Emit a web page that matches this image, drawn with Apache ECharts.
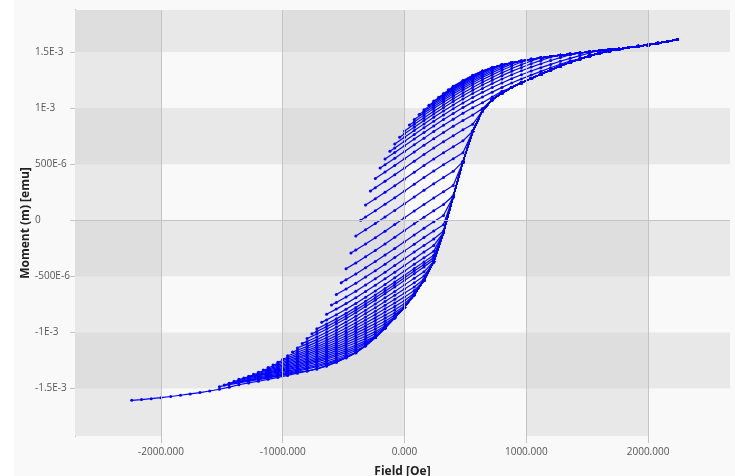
<!DOCTYPE html>
<html><head><meta charset="utf-8">
<script src="https://cdn.jsdelivr.net/npm/echarts@6.0.0/dist/echarts.min.js"></script>
<style>html,body{margin:0;padding:0;background:#f9f9f9}#c{width:735px;height:476px}</style>
</head><body><div id="c"></div>
<script>
// ---- axes ----
const xTicks = [-2000, -1000, 0, 1000, 2000];
const yTicks = [-1.5e-3, -1e-3, -5e-4, 0, 5e-4, 1e-3, 1.5e-3];
const yTickLabels = ['-1.5E-3', '-1E-3', '-500E-6', '0', '500E-6', '1E-3', '1.5E-3'];
const xRange = [-2706, 2673];
const yRange = [-1.923e-3, 1.874e-3];
const shadedColumns = [[-2706, -2000], [-1000, 0], [1000, 2000]];
const shadedRows = [[1.5e-3, 1.874e-3], [5e-4, 1e-3], [-5e-4, 0], [-1.5e-3, -1e-3]];

// ---- data (field in Oe, moment in 1e-6 emu) ----
const FIELD_STEP = 80;
// major ascending branch (first FORC), fields -2240 ... 2240
const ascFields = [-2240,-2160,-2080,-2000,-1920,-1840,-1760,-1680,-1600,-1520,-1440,-1360,-1280,-1200,-1120,-1040,-960,-880,-800,-720,-640,-560,-480,-400,-320,-240,-160,-80,0,80,160,240,320,400,480,560,640,720,800,880,960,1040,1120,1200,1280,1360,1440,1520,1600,1680,1760,1840,1920,2000,2080,2160,2240];
const ascMoments = [-1605,-1598,-1590,-1581,-1571,-1560,-1548,-1536,-1522,-1506,-1488,-1466,-1450,-1435,-1418,-1401,-1383,-1363,-1344,-1325,-1298,-1265,-1225,-1180,-1118,-1045,-960,-868,-775,-665,-535,-370,-110,210,520,790,975,1075,1135,1183,1225,1264,1302,1339,1375,1408,1438,1465,1490,1509,1525,1539,1551,1563,1578,1594,1610];

// reversal fields of the FORCs
const reversalFields = [-1520,-1480,-1440,-1400,-1360,-1320,-1280,-1240,-1200,-1160,-1120,-1080,-1040,-1000,-960,-920,-880,-840,-800,-760,-720,-680,-640,-600,-560,-520,-480,-440,-400,-360,-320,-280,-240,-200,-160,-120,-80,-40,0,40,80,120,160,200,240,280,320,360,400];
// moments of each FORC: first at its reversal field, then on the field grid until it joins the ascending branch
const forcMoments = [
  [-1483,-1465,-1449,-1434,-1421,-1405,-1389,-1372,-1353],
  [-1468,-1457,-1443,-1428,-1414,-1398,-1382,-1365,-1346,-1326,-1306,-1282,-1254],
  [-1452,-1435,-1421,-1406,-1390,-1374,-1356,-1336,-1316,-1295,-1271,-1243,-1210],
  [-1435,-1427,-1412,-1397,-1380,-1363,-1345,-1325,-1303,-1281,-1255,-1228,-1197,-1161],
  [-1418,-1403,-1387,-1370,-1352,-1332,-1311,-1288,-1264,-1238,-1210,-1180,-1146,-1102,-1043],
  [-1405,-1397,-1380,-1362,-1343,-1323,-1301,-1277,-1251,-1224,-1195,-1164,-1130,-1091,-1037],
  [-1390,-1373,-1354,-1334,-1312,-1289,-1265,-1238,-1209,-1179,-1147,-1113,-1075,-1032,-959],
  [-1373,-1364,-1344,-1324,-1301,-1277,-1251,-1223,-1193,-1162,-1128,-1092,-1055,-1012,-952],
  [-1355,-1334,-1313,-1289,-1264,-1237,-1208,-1177,-1144,-1109,-1072,-1033,-993,-941,-867],
  [-1335,-1324,-1302,-1277,-1251,-1223,-1192,-1160,-1126,-1090,-1051,-1010,-969,-923,-859],
  [-1313,-1290,-1264,-1237,-1208,-1177,-1143,-1108,-1070,-1030,-988,-944,-900,-845,-772],
  [-1290,-1278,-1252,-1224,-1193,-1160,-1126,-1089,-1050,-1008,-964,-920,-873,-825,-761],
  [-1265,-1238,-1209,-1177,-1143,-1107,-1069,-1029,-986,-940,-894,-846,-797,-743,-662],
  [-1238,-1223,-1193,-1161,-1126,-1089,-1049,-1007,-963,-916,-868,-818,-768,-716,-650],
  [-1208,-1177,-1143,-1107,-1069,-1028,-985,-939,-890,-840,-789,-737,-683,-627,-534],
  [-1175,-1159,-1124,-1086,-1047,-1005,-960,-913,-862,-811,-758,-704,-649,-595,-523],
  [-1138,-1102,-1064,-1023,-980,-933,-884,-832,-780,-725,-669,-613,-556,-498],
  [-1098,-1080,-1040,-998,-953,-906,-855,-802,-747,-691,-634,-576,-517,-460,-367],
  [-1055,-1014,-971,-925,-876,-824,-769,-713,-655,-596,-536,-476,-417,-349],
  [-1012,-991,-948,-902,-853,-801,-746,-690,-632,-573,-513,-453,-394,-333],
  [-968,-925,-879,-830,-778,-723,-667,-609,-550,-490,-430,-371,-313],
  [-910,-888,-842,-793,-741,-686,-630,-572,-513,-453,-393,-334,-276],
  [-838,-792,-743,-691,-636,-580,-522,-463,-403,-343,-284,-226],
  [-756,-733,-684,-632,-577,-521,-463,-404,-344,-284,-225,-167,-96],
  [-662,-613,-561,-506,-450,-392,-333,-273,-213,-154,-96,-40],
  [-556,-531,-479,-424,-368,-310,-251,-191,-131,-72,-14,42],
  [-432,-380,-325,-269,-211,-152,-92,-32,27,85,141,219],
  [-292,-266,-211,-155,-97,-38,22,82,141,199,255,310],
  [-140,-85,-29,29,88,148,208,267,325,381,436,523],
  [0,28,84,142,201,261,321,380,438,494,549,601],
  [135,191,249,308,368,428,487,545,601,656,708,793],
  [260,289,347,406,466,526,585,643,699,754,806,855],
  [372,430,489,549,609,668,726,782,837,889,938,995,1076],
  [465,494,553,613,673,732,790,846,901,953,1002,1048,1099,1149],
  [545,604,664,724,783,841,897,952,1004,1053,1099,1142,1184,1223,1260,1294,1327,1359,1390,1419],
  [615,645,705,765,824,882,938,993,1045,1094,1140,1183,1224,1262,1297,1330,1360,1389,1417,1443,1468,1491,1513,1523],
  [680,740,800,859,917,973,1028,1080,1129,1175,1218,1259,1297,1332,1365,1395,1424,1450,1475,1491,1502,1513,1523],
  [740,770,830,889,947,1003,1058,1110,1159,1205,1248,1289,1327,1362,1395,1425,1454,1471,1481,1491,1502,1513,1523],
  [795,855,914,972,1028,1083,1135,1184,1230,1273,1314,1352,1387,1420,1448,1460,1471,1481,1491,1502,1513,1523],
  [848,878,937,995,1051,1106,1158,1207,1253,1296,1337,1375,1410,1435,1448,1460,1471,1481,1491,1502,1513,1523],
  [897,956,1014,1070,1125,1177,1226,1272,1315,1356,1394,1420,1435,1448,1460,1471,1481,1491,1502,1513,1523],
  [942,971,1029,1085,1140,1192,1241,1287,1330,1371,1404,1420,1435,1448,1460,1471,1481,1491,1502,1513,1523],
  [985,1043,1099,1154,1206,1255,1301,1344,1385,1404,1420,1435,1448,1460,1471,1481,1491,1502,1513,1523],
  [1025,1054,1110,1165,1217,1266,1312,1355,1385,1404,1420,1435,1448,1460,1471,1481,1491,1502,1513,1523],
  [1062,1118,1173,1225,1274,1320,1360,1385,1404,1420,1435,1448,1460,1471,1481,1491,1502,1513,1523],
  [1097,1124,1179,1231,1280,1326,1360,1385,1404,1420,1435,1448,1460,1471,1481,1491,1502,1513,1523],
  [1130,1185,1237,1286,1330,1360,1385,1404,1420,1435,1448,1460,1471,1481,1491,1502,1513,1523],
  [1163,1190,1242,1291,1330,1360,1385,1404,1420,1435,1448,1460,1471,1481,1491,1502,1513,1523],
  [1195,1245,1292,1330,1360,1385,1404,1420,1435,1448,1460,1471,1481,1491,1502,1513,1523]
];

// ---- build series ----
const UNIT = 1e-6;
function forcPoints(hr, moments) {
  const pts = [[hr, moments[0] * UNIT]];
  let h = Math.floor(hr / FIELD_STEP) * FIELD_STEP + FIELD_STEP;
  for (let i = 1; i < moments.length; i++, h += FIELD_STEP) pts.push([h, moments[i] * UNIT]);
  const last = pts[pts.length - 1][0];
  ascFields.forEach((f, i) => { if (f > last) pts.push([f, ascMoments[i] * UNIT]); });
  return pts;
}
const font = '"Open Sans", "Noto Sans", sans-serif';
const curveStyle = {
  type: 'line', symbol: 'circle', symbolSize: 3, showSymbol: true, z: 3, silent: true,
  itemStyle: { color: '#0000ff' }, lineStyle: { color: '#0000ff', width: 1.2 }
};

const series = [{
  type: 'line', data: [], silent: true, z: 1,
  markArea: { silent: true, itemStyle: { color: '#e8e8e8' },
    data: shadedColumns.map(c => [{ xAxis: c[0] }, { xAxis: c[1] }]) }
}, {
  type: 'line', data: [], silent: true, z: 1,
  markArea: { silent: true, itemStyle: { color: 'rgba(208,208,208,0.41)' },
    data: shadedRows.map(r => [{ yAxis: r[0] }, { yAxis: r[1] }]) }
}, {
  type: 'line', data: [], silent: true, z: 1,
  markLine: { silent: true, symbol: 'none', animation: false, label: { show: false },
    lineStyle: { color: '#c4c4c4', width: 1, type: 'solid' },
    data: xTicks.map(v => ({ xAxis: v })).concat(yTicks.map(v => ({ yAxis: v }))) }
}];
series.push(Object.assign({ data: ascFields.map((f, i) => [f, ascMoments[i] * UNIT]) }, curveStyle));
reversalFields.forEach((hr, k) => series.push(Object.assign({ data: forcPoints(hr, forcMoments[k]) }, curveStyle)));

const chart = echarts.init(document.getElementById('c'), null, { renderer: 'canvas' });
chart.setOption({
  animation: false,
  backgroundColor: '#f9f9f9',
  graphic: [{ type: 'rect', left: 0, top: 0, shape: { width: 14, height: 476 }, style: { fill: '#ffffff' }, silent: true }],
  grid: { left: 75, right: 5, top: 10, bottom: 40, containLabel: false, outerBoundsMode: 'none' },
  xAxis: {
    type: 'value', min: xRange[0], max: xRange[1],
    name: 'Field [Oe]', nameLocation: 'middle', nameGap: 30, nameMoveOverlap: false,
    nameTextStyle: { fontFamily: font, fontWeight: 'bold', fontSize: 12, color: '#222' },
    axisLine: { show: false, onZero: false },
    axisTick: { show: true, length: 7, customValues: xTicks, lineStyle: { color: '#c4c4c4' } },
    axisLabel: { customValues: xTicks, margin: 11, fontFamily: font, fontSize: 10, color: '#555',
      formatter: v => v.toFixed(3) },
    splitLine: { show: false }
  },
  yAxis: {
    type: 'value', min: yRange[0], max: yRange[1],
    name: 'Moment (m) [emu]', nameLocation: 'middle', nameGap: 43, nameRotate: 90, nameMoveOverlap: false,
    nameTextStyle: { fontFamily: font, fontWeight: 'bold', fontSize: 12, color: '#222' },
    axisLine: { show: true, onZero: false, lineStyle: { color: '#555', width: 1 } },
    axisTick: { show: true, length: 5, customValues: yTicks, lineStyle: { color: '#c4c4c4' } },
    axisLabel: { customValues: yTicks, margin: 40, align: 'left', fontFamily: font, fontSize: 10, color: '#555',
      formatter: v => { const i = yTicks.findIndex(t => Math.abs(t - v) < 1e-9); return i >= 0 ? yTickLabels[i] : ''; } },
    splitLine: { show: false }
  },
  series: series
});
</script></body></html>
